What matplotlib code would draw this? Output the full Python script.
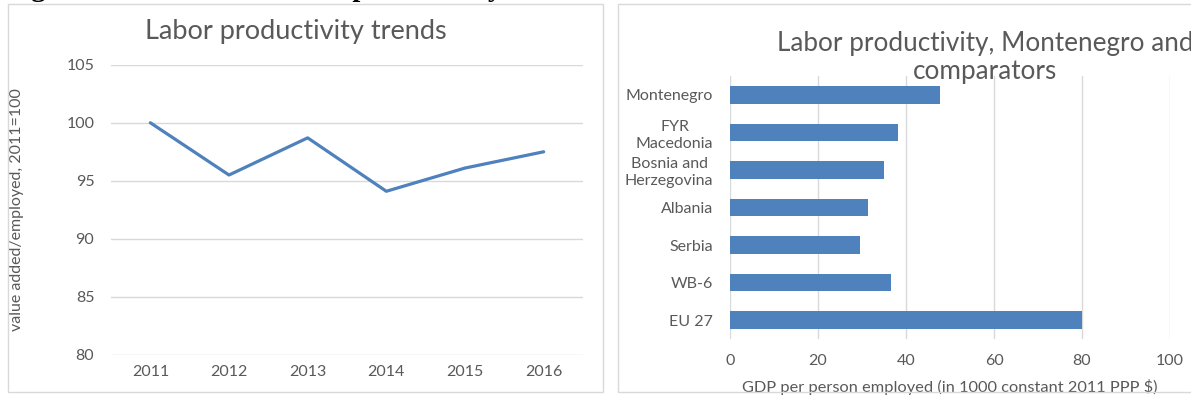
import matplotlib
matplotlib.use("Agg")
import matplotlib.pyplot as plt
from matplotlib.patches import Rectangle

years = ["2011", "2012", "2013", "2014", "2015", "2016"]
productivity_index = [100.0, 95.5, 98.7, 94.1, 96.1, 97.5]

countries = ["Montenegro", "FYR\nMacedonia", "Bosnia and\nHerzegovina", "Albania", "Serbia", "WB-6", "EU 27"]
gdp_per_employed = [47.7, 38.2, 35.1, 31.4, 29.6, 36.5, 80.0]

left_yticks = [80, 85, 90, 95, 100, 105]
right_xticks = [0, 20, 40, 60, 80, 100]

W, H = 1191, 400
BLUE = "#4f81bd"
GRID = "#d9d9d9"
TXT = "#595959"
FONT = "Lato"
TICK_FS = 11.5

plt.rcParams['font.family'] = [FONT, 'DejaVu Sans']
fig = plt.figure(figsize=(W / 100, H / 100), dpi=100)

def fx(px):
    return px / W

def fy(py):
    return 1 - py / H

# chart borders
fig.patches.append(Rectangle((fx(8), fy(392)), fx(603 - 8), (392 - 4) / H,
                             transform=fig.transFigure, fill=False, edgecolor=GRID, lw=1))
fig.patches.append(Rectangle((fx(618), fy(392)), fx(1200 - 618), (392 - 4) / H,
                             transform=fig.transFigure, fill=False, edgecolor=GRID, lw=1))

# clipped heading at very top (only descenders visible)
fig.text(fx(6), fy(-4.5), "Figure 3: Evolution of labor productivity", family="Liberation Serif",
         fontweight="bold", fontsize=20.5, color="black", ha="left", va="baseline")

# ---- left: line chart
ax1 = fig.add_axes([fx(111), fy(355), fx(583 - 111), (355 - 64.7) / H])
x = list(range(len(years)))
ax1.plot(x, productivity_index, color=BLUE, lw=2.3, solid_capstyle="round")
ax1.set_xlim(-0.5, len(years) - 0.5)
ax1.set_ylim(80, 105)
ax1.set_yticks(left_yticks)
ax1.set_xticks(x)
ax1.set_xticklabels(years)
ax1.grid(axis="y", color=GRID, lw=1)
ax1.set_axisbelow(True)
for s in ax1.spines.values():
    s.set_visible(False)
ax1.tick_params(axis="both", length=0, labelsize=TICK_FS, colors=TXT)
ax1.tick_params(axis="y", pad=12)
ax1.tick_params(axis="x", pad=7)
ax1.set_ylabel("value added/employed, 2011=100", fontsize=11.5, color=TXT)
ax1.yaxis.set_label_coords((24 - 111) / (583 - 111), 0.5)
fig.text(fx(296), fy(32), "Labor productivity trends", fontsize=19.5, color=TXT,
         ha="center", va="center")

# ---- right: bar chart
ax2 = fig.add_axes([fx(730), fy(339), fx(1170 - 730), (339 - 76) / H])
y = list(range(len(countries)))
ax2.barh(y, gdp_per_employed, height=0.47, color=BLUE)
ax2.set_xlim(0, 100)
ax2.set_ylim(len(countries) - 0.5, -0.5)
ax2.set_xticks(right_xticks)
ax2.set_yticks(y)
ax2.set_yticklabels(countries, multialignment="center", linespacing=1.25)
ax2.grid(axis="x", color=GRID, lw=1)
ax2.set_axisbelow(True)
for s in ax2.spines.values():
    s.set_visible(False)
ax2.tick_params(axis="both", length=0, labelsize=TICK_FS, colors=TXT)
ax2.tick_params(axis="y", pad=12)
ax2.tick_params(axis="x", pad=11)
ax2.set_xlabel("GDP per person employed (in 1000 constant 2011 PPP $)", fontsize=11.8,
               color=TXT, labelpad=8)
fig.text(fx(985), fy(44), "Labor productivity, Montenegro and", fontsize=18.8,
         color=TXT, ha="center", va="center")
fig.text(fx(985), fy(72), "comparators", fontsize=18.8,
         color=TXT, ha="center", va="center")

fig.savefig("out.png", dpi=100)
